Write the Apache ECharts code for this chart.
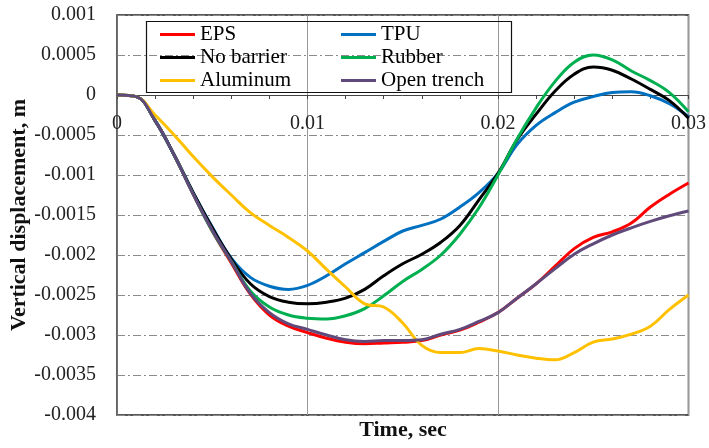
<!DOCTYPE html>
<html>
<head>
<meta charset="utf-8">
<script src="https://cdn.jsdelivr.net/npm/echarts@6/dist/echarts.min.js"></script>
<style>
html,body{margin:0;padding:0;background:#fff;}
#chart{width:709px;height:448px;}
</style>
</head>
<body>
<div id="chart"></div>
<script>
var time = [0,0.001,0.002,0.003,0.004,0.005,0.006,0.007,0.008,0.009,0.010,0.011,0.012,0.013,0.014,0.015,0.016,0.017,0.018,0.019,0.020,0.021,0.022,0.023,0.024,0.025,0.026,0.027,0.028,0.029,0.030];

var eps = [0,-0.00002,-0.00032,-0.00075,-0.00124,-0.0017,-0.0021,-0.00249,-0.00275,-0.00289,-0.00297,-0.00304,-0.00309,-0.00311,-0.0031,-0.00309,-0.00307,-0.003,-0.00294,-0.00284,-0.00272,-0.00254,-0.00236,-0.00214,-0.00192,-0.00178,-0.00171,-0.0016,-0.0014,-0.00124,-0.0011];
var tpu = [0,-0.00002,-0.00032,-0.00075,-0.00122,-0.00165,-0.00204,-0.00228,-0.00239,-0.00243,-0.00238,-0.00226,-0.00211,-0.00197,-0.00183,-0.0017,-0.00163,-0.00155,-0.0014,-0.00122,-0.00098,-0.00062,-0.00038,-0.00022,-0.00009,-0.00002,0.00003,0.00004,-0.00001,-0.00011,-0.00027];
var noBarrier = [0,-0.00002,-0.00032,-0.00075,-0.00122,-0.00166,-0.00205,-0.00236,-0.00252,-0.00259,-0.00261,-0.00259,-0.00254,-0.00243,-0.00226,-0.00211,-0.00199,-0.00184,-0.00163,-0.00131,-0.00098,-0.00056,-0.00024,0.00005,0.00026,0.00035,0.00031,0.0002,0.00007,-0.00007,-0.00029];
var rubber = [0,-0.00002,-0.00032,-0.00075,-0.00124,-0.0017,-0.00208,-0.00245,-0.00265,-0.00275,-0.00279,-0.0028,-0.00276,-0.00267,-0.00251,-0.00233,-0.00218,-0.002,-0.00174,-0.00141,-0.001,-0.00055,-0.00016,0.00017,0.00041,0.0005,0.00044,0.0003,0.00018,0.00003,-0.00021];
var aluminum = [0,-0.00002,-0.00025,-0.0005,-0.00077,-0.00102,-0.00125,-0.00147,-0.00163,-0.00178,-0.00195,-0.00218,-0.0024,-0.00261,-0.00265,-0.00285,-0.00313,-0.00322,-0.00322,-0.00317,-0.0032,-0.00325,-0.00329,-0.00331,-0.00322,-0.00309,-0.00305,-0.00299,-0.00289,-0.00268,-0.0025];
var openTrench = [0,-0.00002,-0.00032,-0.00075,-0.00124,-0.00169,-0.00208,-0.00248,-0.00272,-0.00286,-0.00293,-0.003,-0.00306,-0.00308,-0.00307,-0.00307,-0.00306,-0.00299,-0.00293,-0.00283,-0.00272,-0.00254,-0.00236,-0.00217,-0.00199,-0.00186,-0.00175,-0.00166,-0.00158,-0.00151,-0.00145];

var seriesNames = ['EPS','TPU','No barrier','Rubber','Aluminum','Open trench'];
var seriesColors = ['#ff0000','#0070c0','#000000','#00b050','#ffc000','#604a7b'];
var seriesValues = [eps, tpu, noBarrier, rubber, aluminum, openTrench];

var xTickLabels = ['0','0.01','0.02','0.03'];
var yTickLabels = ['0.001','0.0005','0','-0.0005','-0.001','-0.0015','-0.002','-0.0025','-0.003','-0.0035','-0.004'];
var xTitle = 'Time, sec';
var yTitle = 'Vertical displacement, m';

function findLabel(list, v) {
  for (var i = 0; i < list.length; i++) {
    if (Math.abs(parseFloat(list[i]) - v) < 1e-9) return list[i];
  }
  return '';
}

var font = '"Liberation Serif", "Times New Roman", serif';
var chart = echarts.init(document.getElementById('chart'));

var series = seriesNames.map(function (name, i) {
  return {
    name: name,
    type: 'line',
    data: time.map(function (t, k) { return [t, seriesValues[i][k]]; }),
    showSymbol: false,
    symbol: 'none',
    smooth: 0.4,
    lineStyle: { color: seriesColors[i], width: 3 },
    itemStyle: { color: seriesColors[i] },
    z: 2 + i
  };
});

var legendCommon = {
  orient: 'vertical',
  icon: 'rect',
  itemWidth: 35,
  itemHeight: 3,
  itemGap: 2,
  padding: 0,
  top: 24,
  textStyle: { fontFamily: font, fontSize: 21, color: '#000', lineHeight: 21 }
};

chart.setOption({
  animation: false,
  backgroundColor: '#fff',
  grid: { left: 117, right: 19, top: 15, bottom: 33, show: true, borderColor: '#222', borderWidth: 1.5, backgroundColor: 'transparent' },
  legend: [
    Object.assign({}, legendCommon, { left: 160, data: [seriesNames[0], seriesNames[2], seriesNames[4]] }),
    Object.assign({}, legendCommon, { left: 341, data: [seriesNames[1], seriesNames[3], seriesNames[5]] })
  ],
  xAxis: {
    type: 'value',
    position: 'bottom',
    offset: -320,
    min: 0, max: 0.03, interval: 0.01,
    axisLine: { onZero: false, lineStyle: { color: '#444', width: 1 } },
    axisTick: { show: true, length: 4, lineStyle: { color: '#444' } },
    minorTick: { show: true, splitNumber: 5, length: 4, lineStyle: { color: '#444' } },
    splitLine: { show: true, lineStyle: { color: '#999', width: 1, type: 'solid' } },
    axisLabel: {
      margin: 19, fontFamily: font, fontSize: 20, color: '#222',
      formatter: function (v) { return findLabel(xTickLabels, v); }
    }
  },
  yAxis: {
    type: 'value',
    min: -0.004, max: 0.001, interval: 0.0005,
    axisLine: { show: true, lineStyle: { color: '#666', width: 1.5 } },
    axisTick: { show: false },
    splitLine: { show: true, lineStyle: { color: '#8a8a8a', width: 1, type: [8, 3, 2, 3] } },
    axisLabel: {
      margin: 21, fontFamily: font, fontSize: 20, color: '#222',
      formatter: function (v) { return findLabel(yTickLabels, v); }
    }
  },
  graphic: [
    { type: 'rect', left: 144, top: 19, shape: { width: 365, height: 71 }, style: { fill: 'none', stroke: '#111', lineWidth: 1.2 }, z: 1 },
    { type: 'text', x: 403, y: 430, style: { text: xTitle, font: 'bold 22px ' + font, fill: '#111', textAlign: 'center', textVerticalAlign: 'middle' } },
    { type: 'text', x: 19, y: 215, rotation: Math.PI / 2, style: { text: yTitle, font: 'bold 22px ' + font, fill: '#111', textAlign: 'center', textVerticalAlign: 'middle' } }
  ],
  series: series
});
</script>
</body>
</html>
